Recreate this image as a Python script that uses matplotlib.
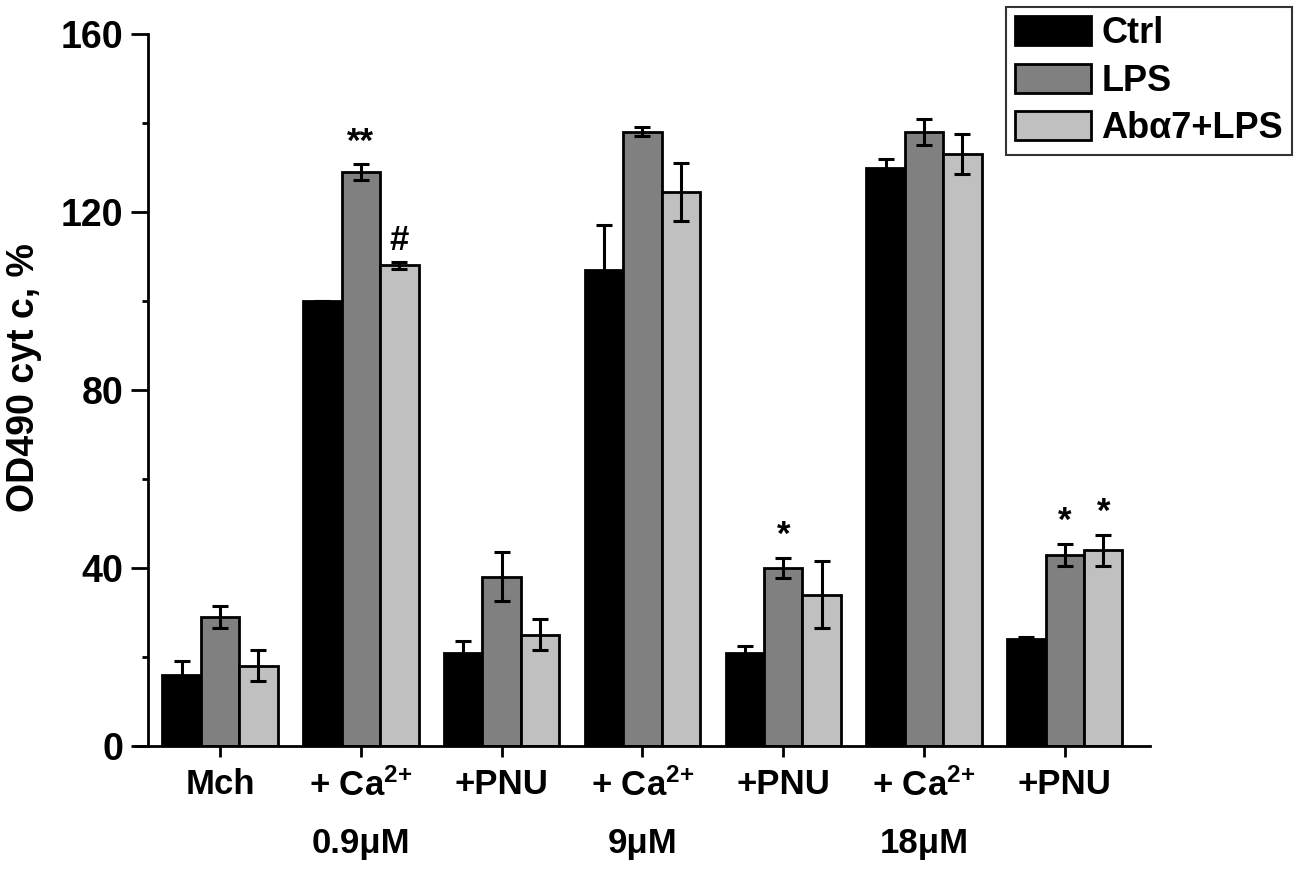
import matplotlib
matplotlib.use("Agg")
import matplotlib.pyplot as plt
import numpy as np

plt.rcParams['font.family'] = ['Liberation Sans', 'DejaVu Sans']
plt.rcParams['font.weight'] = 'bold'
plt.rcParams['mathtext.fontset'] = 'custom'
plt.rcParams['mathtext.rm'] = 'Liberation Sans:bold'
plt.rcParams['mathtext.bf'] = 'Liberation Sans:bold'
plt.rcParams['mathtext.it'] = 'Liberation Sans:bold'

groups = ['Mch', '+ Ca$^{2{+}}$', '+PNU', '+ Ca$^{2{+}}$', '+PNU', '+ Ca$^{2{+}}$', '+PNU']
conc_labels = ['0.9\u03bcM', '9\u03bcM', '18\u03bcM']
conc_groups = [1, 3, 5]
series = ['Ctrl', 'LPS', 'Ab\u03b17+LPS']
ctrl = [16, 100, 21, 107, 21, 130, 24]
ctrl_err = [3, 0, 2.5, 10, 1.5, 2, 0.5]
lps = [29, 129, 38, 138, 40, 138, 43]
lps_err = [2.5, 1.8, 5.5, 1, 2.3, 3, 2.5]
ab = [18, 108, 25, 124.5, 34, 133, 44]
ab_err = [3.5, 0.7, 3.5, 6.5, 7.5, 4.5, 3.5]
# significance marks: (series index, group index, label)
marks = [(1, 1, '**'), (2, 1, '#'), (1, 4, '*'), (1, 6, '*'), (2, 6, '*')]
yticks = [0, 40, 80, 120, 160]

colors = ['#000000', '#808080', '#c0c0c0']
vals = [ctrl, lps, ab]
errs = [ctrl_err, lps_err, ab_err]

fig = plt.figure(figsize=(13, 8.75), dpi=100)
ax = fig.add_axes([136/1300, 1-746/875, (1150-136)/1300, (746-34)/875])

x = np.arange(len(groups))
w = 0.273
for i in range(3):
    pos = x + (i - 1) * w
    ax.bar(pos, vals[i], width=w, color=colors[i], edgecolor='black',
           linewidth=2, label=series[i], zorder=2)
    ax.errorbar(pos, vals[i], yerr=errs[i], fmt='none', ecolor='black',
                elinewidth=2.2, capsize=5.5, capthick=2.2, zorder=3)

for si, gi, lab in marks:
    xp = x[gi] + (si - 1) * w
    top = vals[si][gi] + errs[si][gi]
    ax.annotate(lab, (xp, top), xytext=(0, 4), textcoords='offset points',
                ha='center', va='bottom', fontsize=25, fontweight='bold')

ax.set_xlim(-0.597, 6.605)
ax.set_ylim(0, 160)
ax.spines['left'].set_position(('data', -0.511))
ax.spines['right'].set_visible(False)
ax.spines['top'].set_visible(False)
ax.spines['left'].set_linewidth(2)
ax.spines['bottom'].set_linewidth(2)

ax.set_yticks(yticks)
ax.set_yticklabels([str(v) for v in yticks], fontsize=27, fontweight='bold')
ax.set_yticks([20, 60, 100, 140], minor=True)
ax.tick_params(axis='y', which='major', direction='out', length=12, width=2, pad=6)
ax.tick_params(axis='y', which='minor', direction='out', length=4, width=2)
ax.set_xticks(x)
ax.set_xticklabels(groups, fontsize=25, fontweight='bold')
ax.tick_params(axis='x', direction='out', length=8, width=2, pad=8)

for gi, lab in zip(conc_groups, conc_labels):
    ax.annotate(lab, (x[gi], 0), xytext=(0, -58), textcoords='offset points',
                ha='center', va='top', fontsize=25, fontweight='bold',
                annotation_clip=False)

ax.set_ylabel('OD490 cyt c, %', fontsize=27, fontweight='bold')
ax.yaxis.set_label_coords(-0.093, 0.518)

leg = fig.legend(loc='upper right', bbox_to_anchor=(1292/1300, 1-7/875),
                 bbox_transform=fig.transFigure, fontsize=26, frameon=True,
                 fancybox=False, edgecolor='black', handlelength=2.1,
                 handleheight=0.86, handletextpad=0.28, labelspacing=0.35,
                 borderpad=0.25, borderaxespad=0)
leg.get_frame().set_linewidth(1.5)
for t in leg.get_texts():
    t.set_fontweight('bold')

fig.savefig('out.png', dpi=100)
